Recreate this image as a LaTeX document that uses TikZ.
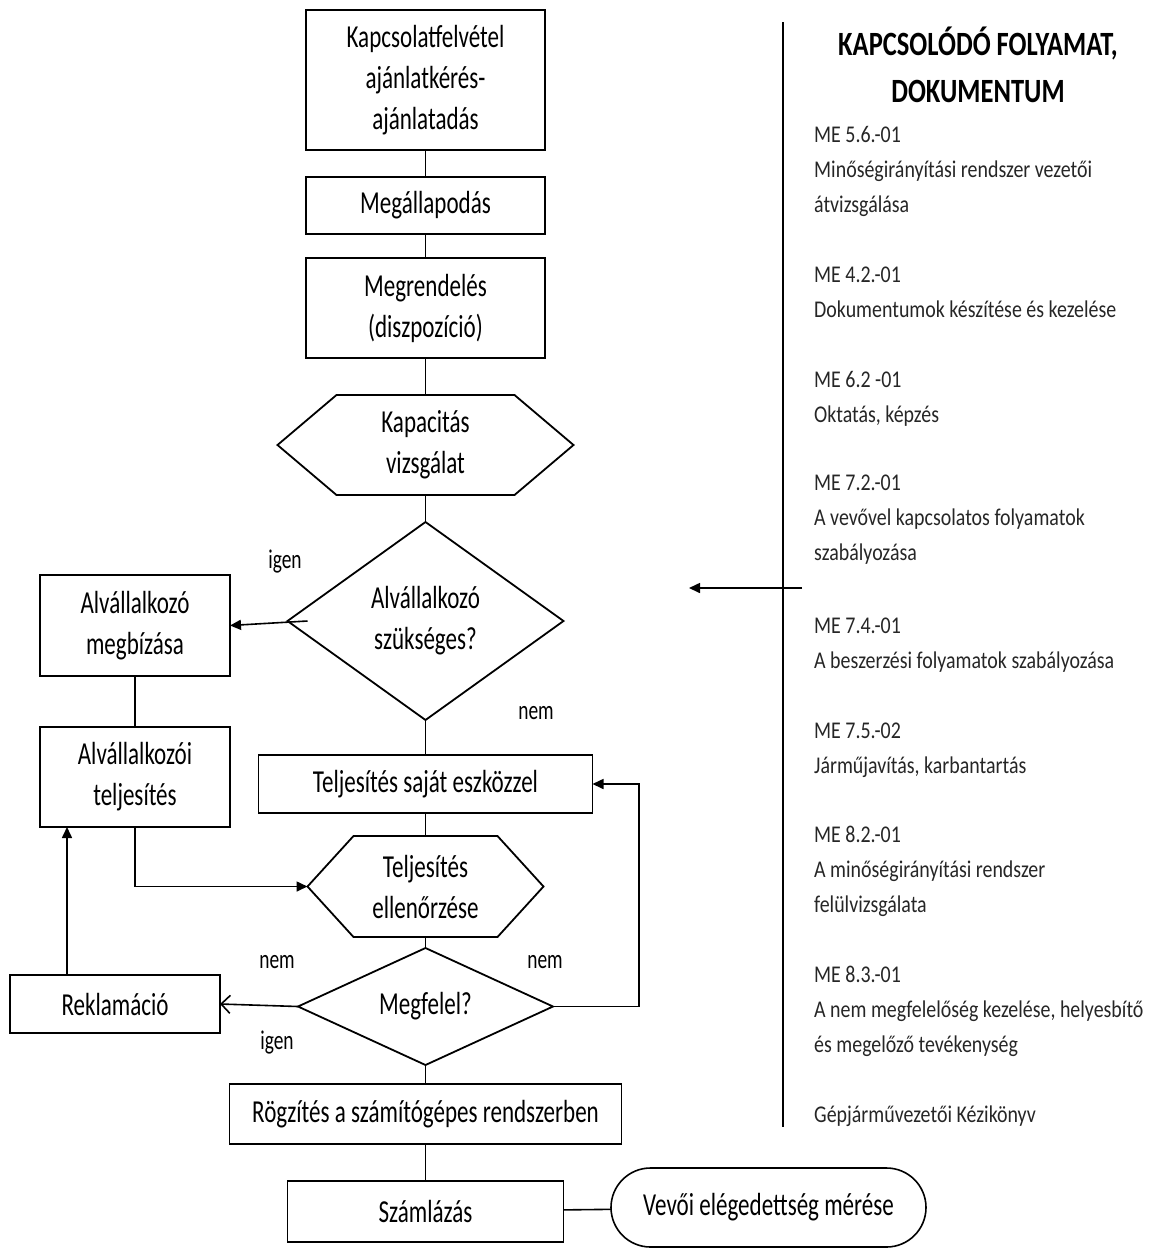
\documentclass[tikz,border=0pt]{standalone}
\usepackage{fontspec}
\setmainfont{Carlito}[FakeStretch=0.72]
\newfontfamily\dokcsalad{Carlito}[FakeStretch=0.83]
\newfontfamily\fejcsalad{Carlito}[FakeStretch=0.78]
\usetikzlibrary{arrows.meta, positioning, shapes.geometric, shapes.misc}
\newcommand{\boxfnt}{\fontsize{32}{41}\selectfont}
\newcommand{\labfnt}{\fontsize{27}{32}\selectfont}
\newcommand{\dokfnt}{\dokcsalad\fontsize{24}{35}\selectfont}
\newcommand{\fejfnt}{\fejcsalad\fontsize{34}{47}\selectfont\bfseries}

\begin{document}
\begin{tikzpicture}[
    x=1pt, y=-1pt,
    punkt/.style = {rectangle, draw, line width=1.8pt, align=center, inner sep=0pt, outer sep=0pt, font=\boxfnt},
    dont/.style = {diamond, draw, aspect=2, line width=1.8pt, align=center, inner sep=0pt, outer sep=0pt, font=\boxfnt},
    hexa/.style = {rectangle, align=center, inner sep=0pt, outer sep=0pt, font=\boxfnt},
    ovalis/.style = {rounded rectangle, draw, line width=1.6pt, inner sep=0pt, outer sep=0pt, font=\boxfnt},
    lbl/.style = {font=\labfnt, inner sep=0pt},
    dok/.style = {anchor=base west, align=left, inner sep=0pt, font=\dokfnt, text=black!85},
    vonal/.style = {line width=1.6pt},
    pil/.style = {line width=1.6pt, -{Triangle[length=11pt,width=10pt]}},
    nyil/.style = {line width=1.6pt, -{Straight Barb[length=9pt,width=18pt]}},
  ]
  \useasboundingbox (0,0) rectangle (1156,1248);

  % fo folyamat
  \node[punkt, minimum width=239pt, minimum height=140pt] (kapcs) at (425.5,80) {Kapcsolatfelvétel\\ajánlatkérés-\\ajánlatadás};
  \node[punkt, minimum width=239pt, minimum height=57pt] (megall) [below=27pt of kapcs] {Megállapodás};
  \node[punkt, minimum width=239pt, minimum height=100pt] (megrend) [below=24pt of megall] {Megrendelés\\(diszpozíció)};
  \node[hexa, minimum width=178pt, minimum height=100pt] (kapac) [below=37pt of megrend] {Kapacitás\\vizsgálat};
  \node[dont, minimum width=276pt, minimum height=198pt] (alvszuk) [below=27pt of kapac] {Alvállalkozó\\szükséges?};
  \node[punkt, minimum width=334pt, minimum height=58pt] (sajat) [below=35pt of alvszuk] {Teljesítés saját eszközzel};
  \node[hexa, minimum width=144pt, minimum height=101pt] (ellen) [below=23pt of sajat] {Teljesítés\\ellenőrzése};
  \node[dont, minimum width=255pt, minimum height=117pt] (megfel) [below=11pt of ellen] {Megfelel?};
  \node[punkt, minimum width=392pt, minimum height=60pt] (rogz) [below=19pt of megfel] {Rögzítés a számítógépes rendszerben};
  \node[punkt, minimum width=276pt, minimum height=61pt] (szaml) [below=37pt of rogz] {Számlázás};
  \node[ovalis, minimum width=315pt, minimum height=79pt] (elegedett) at (768.5,1207.5) {Vevői elégedettség mérése};

  % alvallalkozo ag
  \node[punkt, minimum width=190pt, minimum height=101pt] (alvmeg) at (135,625.5) {Alvállalkozó\\megbízása};
  \node[punkt, minimum width=190pt, minimum height=100pt] (alvtelj) [below=51pt of alvmeg] {Alvállalkozói\\teljesítés};
  \node[punkt, minimum width=210pt, minimum height=58pt] (reklam) at (115,1004) {Reklamáció};

  % hatszogek
  \coordinate (kapacw) at ([shift={(-59,0)}]kapac.west);
  \coordinate (kapace) at ([shift={(59,0)}]kapac.east);
  \coordinate (ellenw) at ([shift={(-46,0)}]ellen.west);
  \coordinate (ellene) at ([shift={(46,0)}]ellen.east);
  \draw[line width=1.8pt] (kapac.north west) -- (kapac.north east) -- (kapace) -- (kapac.south east) -- (kapac.south west) -- (kapacw) -- cycle;
  \draw[line width=1.8pt] (ellen.north west) -- (ellen.north east) -- (ellene) -- (ellen.south east) -- (ellen.south west) -- (ellenw) -- cycle;

  \node[lbl] (igen1) at (285,562) {igen};
  \node[lbl] (nem1) at (536,713) {nem};
  \node[lbl] (nem2) at (277,962) {nem};
  \node[lbl] (nem3) at (545,962) {nem};
  \node[lbl] (igen2) at (277,1043) {igen};

  % kapcsolodo dokumentumok
  \node[font=\fejfnt, align=center, anchor=base, inner sep=0pt] (fejlec) at (978,102) {KAPCSOLÓDÓ FOLYAMAT,\\DOKUMENTUM};
  \node[dok] (me56) at (814,212) {ME 5.6.-01\\Minőségirányítási rendszer vezetői\\átvizsgálása};
  \node[dok] (me42) at (814,317) {ME 4.2.-01\\Dokumentumok készítése és kezelése};
  \node[dok] (me62) at (814,422) {ME 6.2 -01\\Oktatás, képzés};
  \node[dok] (me72) at (814,560) {ME 7.2.-01\\A vevővel kapcsolatos folyamatok\\szabályozása};
  \node[dok] (me74) at (814,668) {ME 7.4.-01\\A beszerzési folyamatok szabályozása};
  \node[dok] (me75) at (814,773) {ME 7.5.-02\\Járműjavítás, karbantartás};
  \node[dok] (me82) at (814,912) {ME 8.2.-01\\A minőségirányítási rendszer\\felülvizsgálata};
  \node[dok] (me83) at (814,1052) {ME 8.3.-01\\A nem megfelelőség kezelése, helyesbítő\\és megelőző tevékenység};
  \node[dok] (kezik) at (814,1122) {Gépjárművezetői Kézikönyv};

  \coordinate (valtop) at (783,22);
  \coordinate (valbot) at (783,1127);
  \coordinate (nyilki) at (802,588);
  \coordinate (nyilbe) at (689,588);

  \draw[vonal] (kapcs) -- (megall) -- (megrend) -- (kapac) -- (alvszuk) -- (sajat) -- (ellen) -- (megfel) -- (rogz) -- (szaml);
  \draw[vonal] (szaml) -- (elegedett);
  \draw[vonal] (alvmeg) -- (alvtelj);
  \draw[pil] ([xshift=20pt]alvszuk.west) -- (alvmeg.east);
  \draw[pil] (alvtelj.south) |- (ellenw);
  \draw[pil] ([xshift=-48pt]reklam.north) -- ([xshift=-68pt]alvtelj.south);
  \draw[nyil] (megfel.west) -- (reklam.east);
  \draw[pil] (megfel.east) -- ++(86,0) |- (sajat.east);
  \draw[vonal] (valtop) -- (valbot);
  \draw[pil] (nyilki) -- (nyilbe);

\end{tikzpicture}
\end{document}
